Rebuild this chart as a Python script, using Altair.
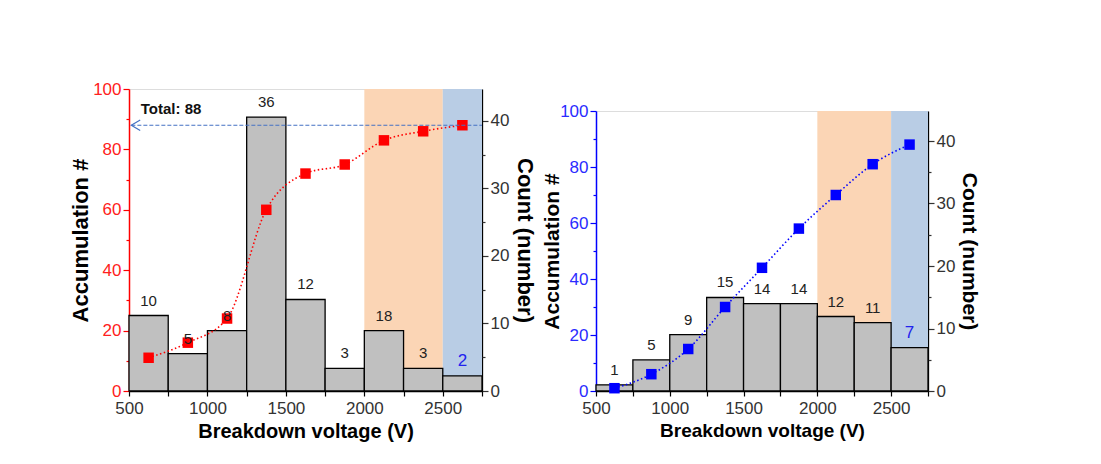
import altair as alt
import pandas as pd

# ---------------- data ----------------
bin_start = [500, 750, 1000, 1250, 1500, 1750, 2000, 2250, 2500]
bin_end = [750, 1000, 1250, 1500, 1750, 2000, 2250, 2500, 2750]
bin_center = [625, 875, 1125, 1375, 1625, 1875, 2125, 2375, 2625]

# left panel (bar heights in accumulation-axis units)
left_bar_height = [25, 12.4, 20, 90.7, 30.3, 7.5, 20, 7.5, 5]
left_labels = ["10", "5", "8", "36", "12", "3", "18", "3", "2"]
left_accum = [11, 16, 24, 60, 72, 75, 83, 86, 88]

# right panel
right_bar_height = [2.2, 11.1, 20.1, 33.4, 31.2, 31.2, 26.6, 24.4, 15.5]
right_labels = ["1", "5", "9", "15", "14", "14", "12", "11", "7"]
right_accum = [1, 6, 15, 30, 44, 58, 70, 81, 88]

label_colors = ["#222222"] * 8 + ["#2222EE"]
label_sizes = [15] * 8 + [17]

zone_start = [2000, 2500]
zone_end = [2500, 2750]
zone_color = ["#FBD5B5", "#B9CDE5"]

total_value = [88]
total_line_start = [515]
total_arrow_x = [548]
total_text = ["Total: 88"]
total_text_x = [575]
total_text_y = [93.5]

FONT = "Liberation Sans"


def panel(bar_h, labels, accum, accent, axis_lbl_color, w, h, right_max,
          xt_size, yt_size, with_total, lpad, ltp, rtp):
    df = pd.DataFrame({
        "start": bin_start, "end": bin_end, "center": bin_center,
        "bar": bar_h, "label": labels, "accum": accum, "lcolor": label_colors,
        "lsize": label_sizes,
    })
    zones = pd.DataFrame({"zs": zone_start, "ze": zone_end, "zc": zone_color,
                          "y0": [0, 0], "y1": [100, 100]})
    xs = alt.Scale(domain=[500, 2750], nice=False, zero=False)
    xaxis = alt.Axis(
        values=list(range(500, 2751, 250)),
        labelExpr="datum.value % 500 == 0 ? datum.label : ''",
        title="Breakdown voltage (V)", titleFontSize=xt_size, titleFontWeight="bold",
        titleColor="black", labelColor="#333333", labelFontSize=17,
        tickColor="black", tickSize=5, tickWidth=1.2, domainColor="black",
        domainWidth=1.3, labelPadding=4, titlePadding=5, grid=False, format="d",
        labelFlush=False, labelOverlap=False)

    def X(field):
        return alt.X(field, scale=xs, axis=xaxis)

    def ys():
        return alt.Scale(domain=[0, 100], nice=False, zero=False)

    zone_layer = alt.Chart(zones).mark_rect().encode(
        x=X("zs:Q"), x2="ze:Q",
        y=alt.Y("y0:Q", scale=ys(), axis=None), y2="y1:Q",
        color=alt.Color("zc:N", scale=None, legend=None),
    )
    bars = alt.Chart(df).mark_rect(fill="#C0C0C0", stroke="black", strokeWidth=1.3).encode(
        x=X("start:Q"),
        x2="end:Q",
        y=alt.Y("bar:Q", scale=ys(), axis=alt.Axis(
            orient="left", values=[0, 20, 40, 60, 80, 100],
            title="Accumulation #", titleFontSize=yt_size, titleFontWeight="bold",
            titleColor="black", labelColor=axis_lbl_color, labelFontSize=17,
            tickColor=accent, tickSize=6, tickWidth=1.2, domainColor=accent,
            domainWidth=1.5, labelPadding=lpad, titlePadding=ltp, grid=False)),
        y2=alt.Y2(datum=0),
    )
    texts = alt.Chart(df).mark_text(dy=-15, font=FONT).encode(
        x=X("center:Q"),
        y=alt.Y("bar:Q", scale=ys(), axis=None),
        text="label:N",
        color=alt.Color("lcolor:N", scale=None, legend=None),
        size=alt.Size("lsize:Q", scale=None, legend=None),
    )
    line = alt.Chart(df).mark_line(color=accent, strokeDash=[1.5, 2.5], strokeWidth=1.6,
                                   interpolate="monotone").encode(
        x=X("center:Q"),
        y=alt.Y("accum:Q", scale=ys(), axis=None),
    )
    pts = alt.Chart(df).mark_square(size=110, color=accent, opacity=1).encode(
        x=X("center:Q"),
        y=alt.Y("accum:Q", scale=ys(), axis=None),
    )
    layers = [zone_layer, bars, line, pts, texts]
    if with_total:
        tdf = pd.DataFrame({"x0": total_line_start, "x1": [2750], "y": total_value,
                            "ax": total_arrow_x, "t": total_text,
                            "tx": total_text_x, "ty": total_text_y})
        tline = alt.Chart(tdf).mark_rule(color="#4472C4", strokeDash=[4, 2], strokeWidth=1.2).encode(
            x=X("x0:Q"), x2="x1:Q",
            y=alt.Y("y:Q", scale=ys(), axis=None),
        )
        arrow = alt.Chart(tdf).mark_point(shape="M 0.7 -1 L -1 0 L 0.7 1", filled=False,
                                          color="#4472C4", size=110, strokeWidth=1.2,
                                          opacity=1).encode(
            x=X("ax:Q"),
            y=alt.Y("y:Q", scale=ys(), axis=None),
        )
        ttext = alt.Chart(tdf).mark_text(fontSize=15, fontWeight="bold", align="left",
                                         color="#111111", font=FONT).encode(
            x=X("tx:Q"),
            y=alt.Y("ty:Q", scale=ys(), axis=None),
            text="t:N",
        )
        layers += [tline, arrow, ttext]

    ax_df = pd.DataFrame({"v": [0, 1], "c": [600, 600]})
    minor_left = alt.Chart(ax_df).mark_point(opacity=0).encode(
        x=X("c:Q"),
        y=alt.Y("v:Q", scale=ys(), axis=alt.Axis(
            orient="left", values=[10, 30, 50, 70, 90], tickSize=3, tickWidth=1.2,
            labels=False, domain=False, title="", tickColor=accent, grid=False)),
    )
    right_major = alt.Chart(ax_df).mark_point(opacity=0).encode(
        x=X("c:Q"),
        y=alt.Y("v:Q", scale=alt.Scale(domain=[0, right_max], nice=False), axis=alt.Axis(
            orient="right", values=[0, 10, 20, 30, 40], title="Count (number)",
            titleFontSize=yt_size, titleFontWeight="bold", titleColor="black",
            labelColor="#333333", labelFontSize=17, tickColor="#333333", tickSize=6,
            tickWidth=1.2, domainColor="black", domainWidth=1.3, labelPadding=2,
            titlePadding=rtp, grid=False)),
    )
    right_minor = alt.Chart(ax_df).mark_point(opacity=0).encode(
        x=X("c:Q"),
        y=alt.Y("v:Q", scale=alt.Scale(domain=[0, right_max], nice=False), axis=alt.Axis(
            orient="right", values=[5, 15, 25, 35], tickSize=3, tickWidth=1.2,
            labels=False, domain=False, title="", tickColor="#333333", grid=False)),
    )
    layers += [minor_left, right_major, right_minor]
    return alt.layer(*layers).resolve_scale(y="independent").properties(width=w, height=h)


left_panel = panel(left_bar_height, left_labels, left_accum, "#FF0000", "#FF2020",
                   353, 302, 44.74, 20, 22, True, 2, 0, 4)
right_panel = panel(right_bar_height, right_labels, right_accum, "#0000FF", "#2B2BFF",
                    332, 280, 44.8, 19, 21, False, 2, -3, 4)

spacer = alt.Chart(pd.DataFrame({"a": [0.0], "b": [0.0]})).mark_point(opacity=0).encode(
    x=alt.X("a:Q", axis=None), y=alt.Y("b:Q", axis=None)
).properties(width=332, height=12, view=alt.ViewBackground(strokeOpacity=0))

chart = alt.hconcat(
    left_panel,
    alt.vconcat(spacer, right_panel, spacing=0),
    spacing=4,
).properties(
    padding={"left": 61, "top": 71, "right": 5, "bottom": 5}
).configure_view(stroke="black", strokeWidth=1.3).configure(font=FONT)

chart.save("out.html", embed_options={"renderer": "svg", "actions": False})
